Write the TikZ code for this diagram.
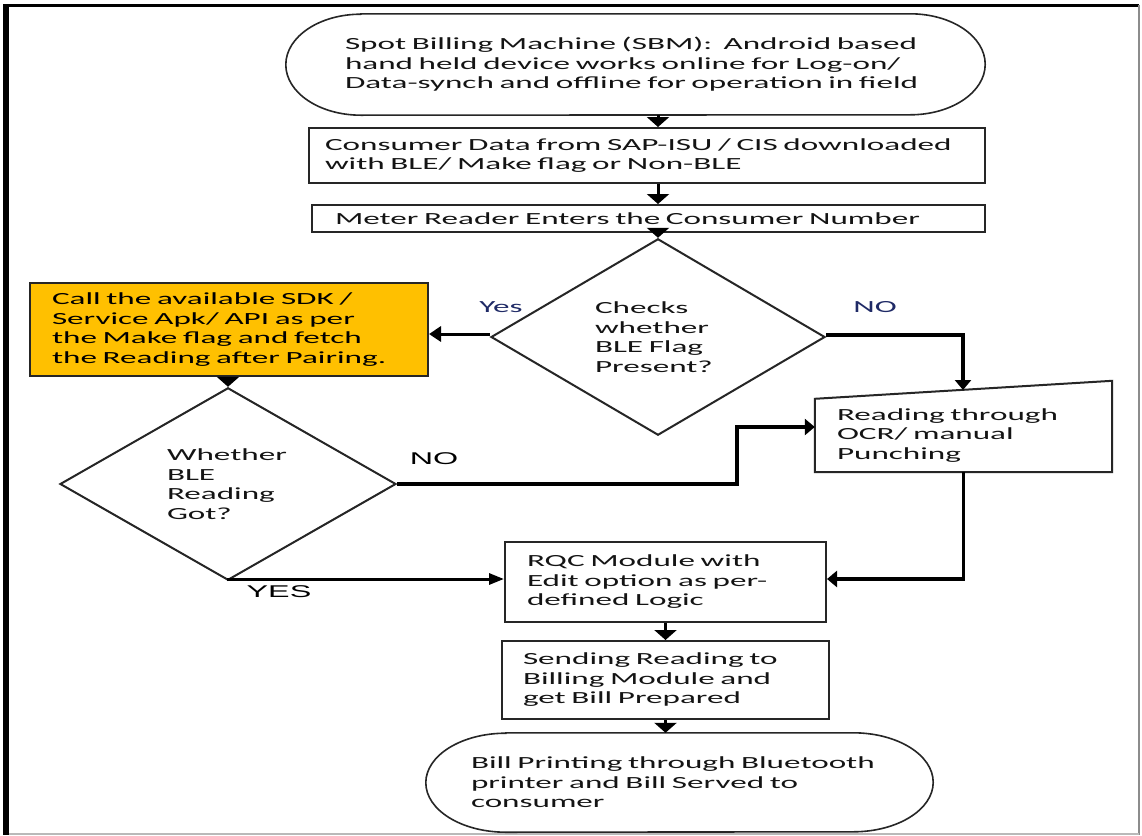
\documentclass[tikz,border=0pt]{standalone}
\usepackage{fontspec}
\setmainfont{Carlito}[FakeStretch=1.95]
\newfontfamily\lblfont{Liberation Sans}[FakeStretch=1.9]
\usetikzlibrary{arrows.meta,shapes.geometric,calc}
\definecolor{ybox}{HTML}{FFC000}
\definecolor{edge}{HTML}{262626}
\definecolor{txt}{HTML}{141414}
\definecolor{navy}{HTML}{1F2A66}
\definecolor{framegray}{HTML}{8C8C8C}
\begin{document}
\begin{tikzpicture}[x=1pt,y=-1pt,
  txtfont/.style={font=\fontsize{17pt}{19.5pt}\selectfont, text=txt},
  procbox/.style={rectangle, draw=edge, line width=2pt, txtfont, align=left, inner ysep=0pt},
  termbox/.style={rectangle, txtfont, align=left, inner ysep=0pt},
  termline/.style={draw=edge, line width=1.6pt},
  decision/.style={diamond, draw=edge, line width=2pt, txtfont, align=left, inner sep=0pt},
  flow/.style={line width=3pt, draw=black, -{Triangle[width=22pt,length=10pt]}},
  elbow/.style={line width=3.6pt, draw=black, line join=miter, -{Triangle[width=16pt,length=10pt]}},
  slim/.style={line width=3pt, draw=black, line join=miter, -{Triangle[width=11pt,length=15pt]}},
  yesarrow/.style={line width=3pt, draw=black, -{Triangle[width=15pt,length=12pt]}},
  navylbl/.style={font=\fontsize{17pt}{19.5pt}\selectfont, text=navy, inner sep=0pt},
  arlbl/.style={font=\lblfont\fontsize{17pt}{19pt}\selectfont, text=black, inner sep=0pt}
]
\useasboundingbox (0,0) rectangle (1142,835);
\fill[white] (0,0) rectangle (1142,835);

% frame
\fill[black] (3,4) rectangle (9,835);
\fill[black] (3,4) rectangle (1139,7);
\draw[framegray, line width=2pt] (1139,5) -- (1139,835);
\draw[gray!55, line width=1.5pt] (9,834) -- (1139,834);

% start terminator
\node[termbox, minimum width=699pt, minimum height=101pt, text width=581pt, inner xsep=59pt] (start) at (635.5,64.5)
  {\mbox{Spot Billing Machine (SBM):\ \ Android based}\\\mbox{hand held device works online for Log-on/}\\\mbox{Data-synch and offline for operation in field}};
\draw[termline] ([xshift=75pt]start.north west) -- ([xshift=-75pt]start.north east)
  arc[start angle=90,end angle=-90,x radius=75pt,y radius=50.5pt]
  -- ([xshift=75pt]start.south west)
  arc[start angle=270,end angle=90,x radius=75pt,y radius=50.5pt] -- cycle;

% process boxes
\node[procbox, minimum width=676pt, minimum height=55pt, text width=644pt, inner xsep=16pt] (download) at (647,155.5)
  {\mbox{Consumer Data from SAP-ISU / CIS downloaded}\\\mbox{with BLE/ Make flag or Non-BLE}};
\node[procbox, minimum width=673pt, minimum height=27pt, text width=627pt, inner xsep=23pt] (enter) at (648.5,218.5)
  {\mbox{Meter Reader Enters the Consumer Number}};

% decisions
\node[decision, minimum width=334pt, minimum height=178pt, text width=126pt] (check) at (658,337)
  {Checks\\whether\\BLE Flag\\Present?};
\node[decision, minimum width=336pt, minimum height=176pt, text width=122pt] (got) at (228,484)
  {Whether\\BLE\\Reading\\Got?};

% SDK box
\node[procbox, fill=ybox, text=black, minimum width=398pt, minimum height=93pt, text width=354pt, inner xsep=22pt] (sdk) at (229,329.5)
  {\mbox{Call the available SDK /}\\\mbox{Service Apk/ API as per}\\\mbox{the Make flag and fetch}\\\mbox{the Reading after Pairing.}};

% OCR manual input
\node[termbox, minimum width=297pt, minimum height=73pt, text width=253pt, inner xsep=22pt] (ocr) at (963.5,435.5)
  {\mbox{Reading through}\\\mbox{OCR/ manual}\\\mbox{Punching}};
\draw[draw=edge, line width=2pt] (ocr.north west) -- ([yshift=18pt]ocr.north east) -- (ocr.south east) -- (ocr.south west) -- cycle;
\coordinate (ocrtop) at (963,390);
\coordinate (nojog) at (737,427);

% RQC, sending
\node[procbox, minimum width=321pt, minimum height=80pt, text width=277pt, inner xsep=22pt] (rqc) at (665.5,582)
  {\mbox{RQC Module with}\\\mbox{Edit option as per-}\\\mbox{defined Logic}};
\node[procbox, minimum width=327pt, minimum height=78pt, text width=285pt, inner xsep=21pt] (send) at (665.5,680)
  {\mbox{Sending Reading to}\\\mbox{Billing Module and}\\\mbox{get Bill Prepared}};

% end terminator
\node[termbox, minimum width=507pt, minimum height=99pt, text width=417pt, inner xsep=45pt] (print) at (679.5,782.5)
  {\mbox{Bill Printing through Bluetooth}\\\mbox{printer and Bill Served to}\\\mbox{consumer}};
\draw[termline] ([xshift=80pt]print.north west) -- ([xshift=-80pt]print.north east)
  arc[start angle=90,end angle=-90,x radius=80pt,y radius=49.5pt]
  -- ([xshift=80pt]print.south west)
  arc[start angle=270,end angle=90,x radius=80pt,y radius=49.5pt] -- cycle;

% connectors
\draw[flow] (start.south -| check.north) -- (download.north -| check.north);
\draw[flow] (download.south -| check.north) -- (enter.north -| check.north);
\draw[flow] (enter.south -| check.north) -- (check.north);
\draw[yesarrow] ([yshift=3pt]check.west) -- ([yshift=3pt]check.west -| sdk.east);
\draw[elbow] ([yshift=2pt]check.east) -| (ocrtop);
\draw[flow] (sdk.south -| got.north) -- (got.north);
\draw[elbow] (got.east) -| (nojog) -- (nojog -| ocr.west);
\draw[slim] (got.south) |- ([yshift=3pt]rqc.west);
\draw[elbow] (ocr.south) |- ([yshift=3pt]rqc.east);
\draw[flow] (rqc.south) -- (send.north);
\draw[flow] (send.south) -- (send.south |- print.north);

% labels
\node[navylbl] (yes1) at (501,307) {Yes};
\node[navylbl] (no1) at (875,307) {NO};
\node[arlbl] (no2) at (434,459) {NO};
\node[arlbl] (yes2) at (279,592) {YES};
\end{tikzpicture}
\end{document}
